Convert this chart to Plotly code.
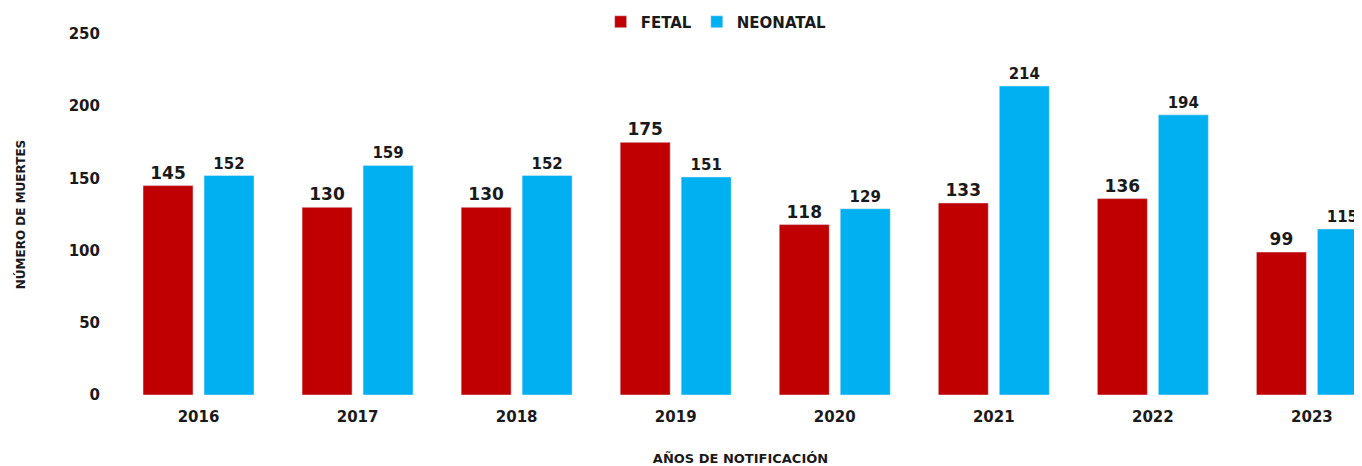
import plotly.graph_objects as go

years = ["2016", "2017", "2018", "2019", "2020", "2021", "2022", "2023"]
fetal = [145, 130, 130, 175, 118, 133, 136, 99]
neonatal = [152, 159, 152, 151, 129, 214, 194, 115]

FONT = "DejaVu Sans"
TXT = "#1a1a1a"

fig = go.Figure()
fig.add_trace(go.Bar(
    x=years, y=fetal, name="FETAL", marker_color="#C00000",
    text=[str(v) for v in fetal], textposition="outside",
    textfont=dict(family=FONT, size=17, color=TXT, weight="bold"),
    cliponaxis=False,
))
fig.add_trace(go.Bar(
    x=years, y=neonatal, name="NEONATAL", marker_color="#00B0F0",
    text=[str(v) for v in neonatal], textposition="outside",
    textfont=dict(family=FONT, size=15, color=TXT, weight="bold"),
    cliponaxis=False,
))

fig.update_layout(
    width=1354, height=458,
    margin=dict(l=111, r=0, t=26, b=71, autoexpand=False),
    paper_bgcolor="white", plot_bgcolor="white",
    barmode="group", bargap=0.233, bargroupgap=0.18,
    font=dict(family=FONT, color=TXT),
    legend=dict(orientation="h", xref="container", x=0.523, xanchor="center",
                yref="container", y=1 - 14 / 458, yanchor="middle",
                font=dict(family=FONT, size=15, color=TXT, weight="bold"),
                itemwidth=30, traceorder="normal"),
    xaxis=dict(
        type="category", range=[-0.5, 7.315], showgrid=False, showline=False, ticks="",
        automargin=False, ticklabelstandoff=11,
        tickfont=dict(family=FONT, size=15, color=TXT, weight="bold"),
        title=dict(text="AÑOS DE NOTIFICACIÓN",
                   font=dict(family=FONT, size=13, color=TXT, weight="bold"),
                   standoff=28),
    ),
    yaxis=dict(
        range=[0, 250], tickvals=[0, 50, 100, 150, 200, 250], showgrid=False,
        zeroline=False, showline=False, ticks="", automargin=False,
        tickfont=dict(family=FONT, size=15, color=TXT, weight="bold"),
        ticklabelstandoff=18,
        title=dict(text="NÚMERO DE MUERTES",
                   font=dict(family=FONT, size=12, color=TXT, weight="bold"),
                   standoff=40),
    ),
)

fig.write_html("out.html")
